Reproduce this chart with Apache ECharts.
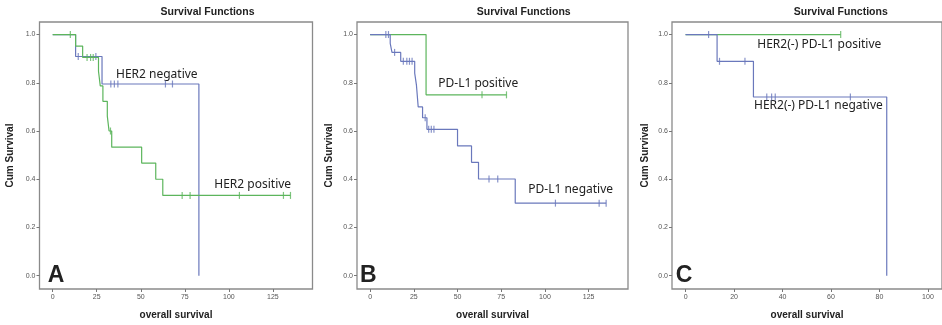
<!DOCTYPE html>
<html>
<head>
<meta charset="utf-8">
<script src="https://cdn.jsdelivr.net/npm/echarts@6/dist/echarts.min.js"></script>
<style>
  html, body { margin: 0; padding: 0; background: #fff; }
  #chart { width: 942px; height: 325px; }
</style>
</head>
<body>
<div id="chart"></div>
<script>
// A: HER2
const aNegTime = [0, 13, 28, 83];
const aNegSurv = [1, 0.909, 0.795, 0];
const aNegCens = [14.5, 24.5, 33, 35, 37, 64, 68];
const aPosTime = [0, 13, 17, 26, 27, 28.5, 31, 32, 33.5, 50.5, 58.5, 62.5, 135];
const aPosSurv = [1, 0.952, 0.905, 0.848, 0.787, 0.723, 0.662, 0.600, 0.533, 0.467, 0.400, 0.333, 0.333];
const aPosCens = [10, 19.5, 21.5, 23, 32.8, 73.5, 78, 106, 131, 135];
// B: PD-L1
const bPosTime = [0, 32, 78];
const bPosSurv = [1, 0.75, 0.75];
const bPosCens = [64, 78];
const bNegTime = [0, 11.5, 12.5, 17.5, 25.5, 26.5, 27.5, 30, 32.5, 50, 58, 62, 83, 135];
const bNegSurv = [1, 0.963, 0.926, 0.889, 0.84, 0.79, 0.70, 0.655, 0.607, 0.538, 0.47, 0.401, 0.301, 0.301];
const bNegCens = [9, 10.5, 14, 19, 21, 22.5, 24, 31.5, 33.5, 35, 36.5, 68, 73, 106, 131, 135];
// C: HER2(-) by PD-L1
const cPosTime = [0, 64];
const cPosSurv = [1, 1];
const cPosCens = [64];
const cNegTime = [0, 13, 28, 83];
const cNegSurv = [1, 0.889, 0.741, 0];
const cNegCens = [9.5, 14, 24.5, 33.5, 35.5, 37, 68];

const ticksAB = [0, 25, 50, 75, 100, 125];
const ticksC = [0, 20, 40, 60, 80, 100];
const ticksY = [0, 0.2, 0.4, 0.6, 0.8, 1.0];

const GREEN = '#5cb55c';
const BLUE = '#6a78bc';

// survival level at time t (step function)
function levelAt(times, surv, t) {
  let s = surv[0];
  for (let i = 0; i < times.length; i++) {
    if (times[i] <= t) s = surv[i];
  }
  return s;
}

function curve(gi, times, surv, color, z) {
  return {
    type: 'line', xAxisIndex: gi, yAxisIndex: gi, step: 'end',
    showSymbol: false, silent: true, z: z,
    lineStyle: { color: color, width: 1.2 },
    data: times.map((t, i) => [t, surv[i]])
  };
}

function censor(gi, times, surv, cens, color, z) {
  return {
    type: 'scatter', xAxisIndex: gi, yAxisIndex: gi, silent: true, z: z,
    symbol: 'rect', symbolSize: [1.2, 7],
    itemStyle: { color: color },
    data: cens.map(t => [t, levelAt(times, surv, t)])
  };
}

function xAxis(gi, min, max, ticks) {
  return {
    gridIndex: gi, type: 'value', min: min, max: max,
    axisLine: { show: false, onZero: false }, splitLine: { show: false },
    axisTick: { show: true, length: 3, customValues: ticks, lineStyle: { color: '#777' } },
    axisLabel: { customValues: ticks, fontSize: 7, color: '#555', margin: 5, fontFamily: 'Liberation Sans' },
    name: 'overall survival', nameLocation: 'middle', nameGap: 21,
    nameTextStyle: { fontSize: 10, fontWeight: 'bold', color: '#222', fontFamily: 'Liberation Sans' }
  };
}

function yAxis(gi, gap) {
  return {
    gridIndex: gi, type: 'value', min: -0.055, max: 1.052,
    axisLine: { show: false, onZero: false }, splitLine: { show: false },
    axisTick: { show: true, length: 3, customValues: ticksY, lineStyle: { color: '#777' } },
    axisLabel: { customValues: ticksY, fontSize: 7, color: '#555', margin: 4, fontFamily: 'Liberation Sans',
      formatter: v => v.toFixed(1) },
    name: 'Cum Survival', nameLocation: 'middle', nameGap: gap,
    nameTextStyle: { fontSize: 10, fontWeight: 'bold', color: '#222', fontFamily: 'Liberation Sans' }
  };
}

function label(text, x, y, size, bold, align) {
  return {
    type: 'text', silent: true,
    style: {
      text: text, x: x, y: y, fill: '#222',
      font: (bold ? 'bold ' : '') + size + 'px ' + (bold ? '"Liberation Sans"' : '"Noto Sans"'),
      textAlign: align || 'left', textVerticalAlign: 'middle'
    }
  };
}

const gridBase = { top: 22, height: 269, show: true, borderColor: '#8a8a8a', borderWidth: 1.3 };

const chart = echarts.init(document.getElementById('chart'), null, { renderer: 'canvas' });
chart.setOption({
  animation: false,
  backgroundColor: '#fff',
  grid: [
    Object.assign({ left: 39.5, width: 273 }, gridBase),
    Object.assign({ left: 357, width: 271 }, gridBase),
    Object.assign({ left: 672, width: 274 }, gridBase)
  ],
  xAxis: [xAxis(0, -7.5, 147.5, ticksAB), xAxis(1, -7.5, 147.5, ticksAB), xAxis(2, -5.6, 105.8, ticksC)],
  yAxis: [yAxis(0, 24), yAxis(1, 23), yAxis(2, 21.5)],
  series: [
    curve(0, aNegTime, aNegSurv, BLUE, 2),
    censor(0, aNegTime, aNegSurv, aNegCens, BLUE, 2),
    curve(0, aPosTime, aPosSurv, GREEN, 3),
    censor(0, aPosTime, aPosSurv, aPosCens, GREEN, 3),
    curve(1, bPosTime, bPosSurv, GREEN, 2),
    censor(1, bPosTime, bPosSurv, bPosCens, GREEN, 2),
    curve(1, bNegTime, bNegSurv, BLUE, 3),
    censor(1, bNegTime, bNegSurv, bNegCens, BLUE, 3),
    curve(2, cPosTime, cPosSurv, GREEN, 2),
    censor(2, cPosTime, cPosSurv, cPosCens, GREEN, 2),
    curve(2, cNegTime, cNegSurv, BLUE, 3),
    censor(2, cNegTime, cNegSurv, cNegCens, BLUE, 3)
  ],
  graphic: [
    label('Survival Functions', 207.5, 12, 10.5, true, 'center'),
    label('Survival Functions', 523.7, 12, 10.5, true, 'center'),
    label('Survival Functions', 840.8, 12, 10.5, true, 'center'),
    label('HER2 negative', 116, 75, 12),
    label('HER2 positive', 214.3, 185, 12),
    label('PD-L1 positive', 438.3, 83.3, 12),
    label('PD-L1 negative', 528.3, 190, 12),
    label('HER2(-) PD-L1 positive', 757.3, 45, 12),
    label('HER2(-) PD-L1 negative', 754, 106, 12),
    label('A', 47.7, 275.5, 23, true),
    label('B', 360, 275.5, 23, true),
    label('C', 675.7, 275.5, 23, true)
  ]
});
</script>
</body>
</html>
